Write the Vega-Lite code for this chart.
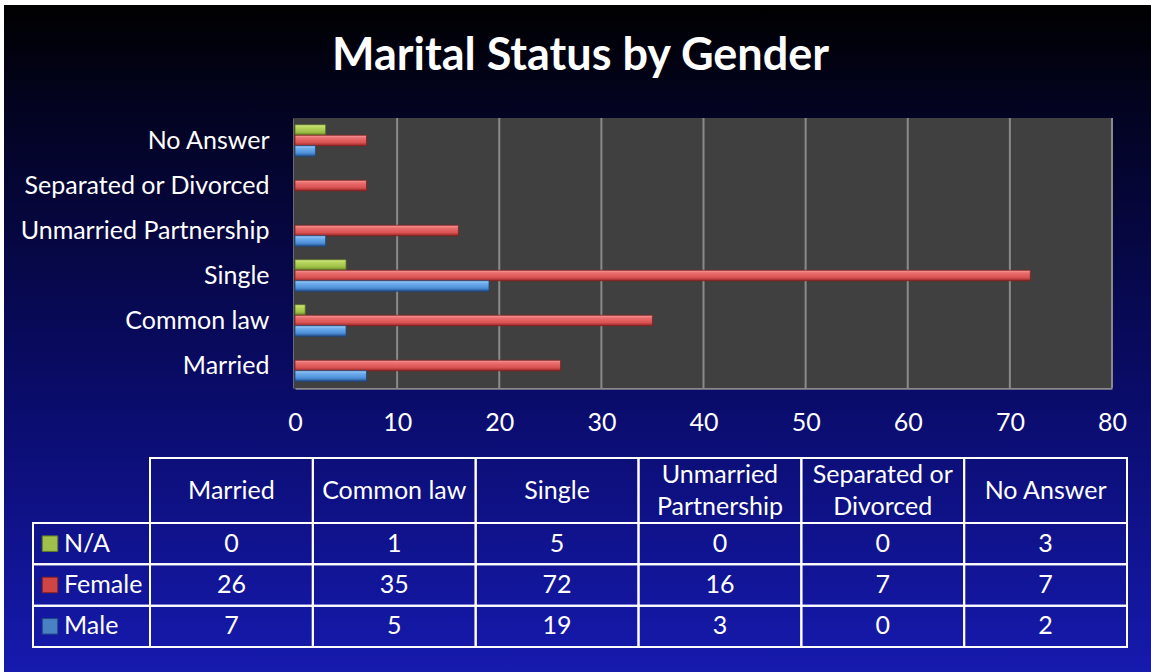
{
  "$schema": "https://vega.github.io/schema/vega-lite/v6.json",
  "width": 1151,
  "height": 672,
  "autosize": {"type": "fit", "contains": "padding"},
  "padding": {"left": 4, "top": 5, "right": 0, "bottom": 0},
  "background": "white",
  "config": {
    "view": {
      "stroke": null,
      "fill": {"gradient": "linear", "x1": 0, "y1": 0, "x2": 0, "y2": 1,
        "stops": [
          {"offset": 0, "color": "#000000"},
          {"offset": 0.15, "color": "#030320"},
          {"offset": 0.6, "color": "#0a0c6c"},
          {"offset": 1, "color": "#161aae"}
        ]}
    },
    "font": "Lato"
  },
  "title": {"text": "Marital Status by Gender", "color": "white", "font": "Lato", "fontSize": 45, "fontWeight": "bold", "anchor": "middle", "offset": -110, "baseline": "alphabetic", "frame": "group", "dx": 3},
  "datasets": {
    "status": [
      {"category": "Married", "gender": "N/A", "count": 0},
      {"category": "Married", "gender": "Female", "count": 26},
      {"category": "Married", "gender": "Male", "count": 7},
      {"category": "Common law", "gender": "N/A", "count": 1},
      {"category": "Common law", "gender": "Female", "count": 35},
      {"category": "Common law", "gender": "Male", "count": 5},
      {"category": "Single", "gender": "N/A", "count": 5},
      {"category": "Single", "gender": "Female", "count": 72},
      {"category": "Single", "gender": "Male", "count": 19},
      {"category": "Unmarried Partnership", "gender": "N/A", "count": 0},
      {"category": "Unmarried Partnership", "gender": "Female", "count": 16},
      {"category": "Unmarried Partnership", "gender": "Male", "count": 3},
      {"category": "Separated or Divorced", "gender": "N/A", "count": 0},
      {"category": "Separated or Divorced", "gender": "Female", "count": 7},
      {"category": "Separated or Divorced", "gender": "Male", "count": 0},
      {"category": "No Answer", "gender": "N/A", "count": 3},
      {"category": "No Answer", "gender": "Female", "count": 7},
      {"category": "No Answer", "gender": "Male", "count": 2}
    ],
    "headers": [
      {"category": "Married", "label": "Married"},
      {"category": "Common law", "label": "Common law"},
      {"category": "Single", "label": "Single"},
      {"category": "Unmarried Partnership", "label": "Unmarried\nPartnership"},
      {"category": "Separated or Divorced", "label": "Separated or\nDivorced"},
      {"category": "No Answer", "label": "No Answer"}
    ],
    "genders": [
      {"gender": "N/A"},
      {"gender": "Female"},
      {"gender": "Male"}
    ],
    "ticks": [
      {"t": 10}, {"t": 20}, {"t": 30}, {"t": 40}, {"t": 50}, {"t": 60}, {"t": 70}, {"t": 80}
    ],
    "one": [{}]
  },
  "resolve": {"scale": {"x": "independent", "y": "independent", "fill": "independent", "stroke": "independent"}, "axis": {"x": "independent", "y": "independent"}},
  "layer": [
    {
      "data": {"name": "one"},
      "mark": {"type": "rect", "fill": "#404040"},
      "encoding": {
        "x": {"datum": 0, "type": "quantitative", "scale": {"domain": [0, 80], "range": [290, 1108], "nice": false}, "axis": null},
        "x2": {"datum": 80},
        "y": {"datum": 0, "type": "quantitative", "scale": {"domain": [0, 1], "range": [383, 113], "nice": false}, "axis": null},
        "y2": {"datum": 1}
      }
    },
    {
      "data": {"name": "ticks"},
      "mark": {"type": "rule", "stroke": "#8a8a8a", "strokeWidth": 2},
      "encoding": {
        "x": {"field": "t", "type": "quantitative", "scale": {"domain": [0, 80], "range": [291, 1108], "nice": false}, "axis": null},
        "y": {"datum": 0, "type": "quantitative", "scale": {"domain": [0, 1], "range": [383, 113], "nice": false}, "axis": null},
        "y2": {"datum": 1}
      }
    },
    {
      "data": {"name": "status"},
      "transform": [{"filter": "datum.gender === 'N/A' && datum.count > 0"}],
      "mark": {"type": "bar", "stroke": "#55701e", "strokeWidth": 0.8,
        "fill": {"gradient": "linear", "x1": 0, "y1": 0, "x2": 0, "y2": 1,
          "stops": [{"offset": 0, "color": "#dcef8e"}, {"offset": 0.25, "color": "#b8d65e"}, {"offset": 0.7, "color": "#9dbf46"}, {"offset": 1, "color": "#5f7c22"}]}},
      "encoding": {
        "y": {"field": "category", "type": "nominal",
          "scale": {"domain": ["No Answer", "Separated or Divorced", "Unmarried Partnership", "Single", "Common law", "Married"], "range": [113, 383], "paddingInner": 0.3, "paddingOuter": 0.15},
          "axis": {"orient": "left", "offset": -290, "title": null, "domain": true, "domainColor": "#8a8a8a", "domainWidth": 2.5, "ticks": false, "grid": false, "labelPadding": 25, "labelLimit": 400, "labelFont": "Lato", "labelFontSize": 25, "labelColor": "white"}},
        "yOffset": {"field": "gender", "type": "nominal", "scale": {"domain": ["N/A", "Female", "Male"], "paddingInner": 0, "paddingOuter": 0}},
        "x": {"field": "count", "type": "quantitative",
          "scale": {"domain": [0, 80], "range": [291, 1108], "nice": false},
          "axis": {"orient": "bottom", "offset": -284, "title": null, "values": [0, 10, 20, 30, 40, 50, 60, 70, 80], "domain": true, "domainColor": "#8a8a8a", "domainWidth": 2.5, "ticks": false, "grid": false, "labelPadding": 34, "labelBaseline": "middle", "labelFont": "Lato", "labelFontSize": 25, "labelColor": "white", "labelFlush": false}}
      }
    },
    {
      "data": {"name": "status"},
      "transform": [{"filter": "datum.gender === 'Female' && datum.count > 0"}],
      "mark": {"type": "bar", "stroke": "#8a2020", "strokeWidth": 0.8,
        "fill": {"gradient": "linear", "x1": 0, "y1": 0, "x2": 0, "y2": 1,
          "stops": [{"offset": 0, "color": "#f7a0a0"}, {"offset": 0.25, "color": "#ea6e6e"}, {"offset": 0.7, "color": "#da5252"}, {"offset": 1, "color": "#952626"}]}},
      "encoding": {
        "y": {"field": "category", "type": "nominal",
          "scale": {"domain": ["No Answer", "Separated or Divorced", "Unmarried Partnership", "Single", "Common law", "Married"], "range": [113, 383], "paddingInner": 0.3, "paddingOuter": 0.15}, "axis": null},
        "yOffset": {"field": "gender", "type": "nominal", "scale": {"domain": ["N/A", "Female", "Male"], "paddingInner": 0, "paddingOuter": 0}},
        "x": {"field": "count", "type": "quantitative", "scale": {"domain": [0, 80], "range": [291, 1108], "nice": false}, "axis": null}
      }
    },
    {
      "data": {"name": "status"},
      "transform": [{"filter": "datum.gender === 'Male' && datum.count > 0"}],
      "mark": {"type": "bar", "stroke": "#1d4880", "strokeWidth": 0.8,
        "fill": {"gradient": "linear", "x1": 0, "y1": 0, "x2": 0, "y2": 1,
          "stops": [{"offset": 0, "color": "#a8d4fb"}, {"offset": 0.25, "color": "#6eaeee"}, {"offset": 0.7, "color": "#4e8fd8"}, {"offset": 1, "color": "#224f8c"}]}},
      "encoding": {
        "y": {"field": "category", "type": "nominal",
          "scale": {"domain": ["No Answer", "Separated or Divorced", "Unmarried Partnership", "Single", "Common law", "Married"], "range": [113, 383], "paddingInner": 0.3, "paddingOuter": 0.15}, "axis": null},
        "yOffset": {"field": "gender", "type": "nominal", "scale": {"domain": ["N/A", "Female", "Male"], "paddingInner": 0, "paddingOuter": 0}},
        "x": {"field": "count", "type": "quantitative", "scale": {"domain": [0, 80], "range": [291, 1108], "nice": false}, "axis": null}
      }
    },
    {
      "data": {"name": "headers"},
      "mark": {"type": "rect", "fillOpacity": 0, "stroke": "white", "strokeWidth": 2},
      "encoding": {
        "x": {"field": "category", "type": "nominal", "scale": {"type": "band", "domain": ["Married", "Common law", "Single", "Unmarried Partnership", "Separated or Divorced", "No Answer"], "range": [146, 1123], "paddingInner": 0, "paddingOuter": 0}, "axis": null},
        "y": {"datum": "h", "type": "nominal", "scale": {"type": "band", "domain": ["h"], "range": [453, 518], "paddingInner": 0, "paddingOuter": 0}, "axis": null}
      }
    },
    {
      "data": {"name": "headers"},
      "transform": [{"filter": "indexof(datum.label, '\\n') < 0"}],
      "mark": {"type": "text", "color": "white", "font": "Lato", "fontSize": 25, "baseline": "middle", "align": "center"},
      "encoding": {
        "x": {"field": "category", "type": "nominal", "scale": {"type": "band", "domain": ["Married", "Common law", "Single", "Unmarried Partnership", "Separated or Divorced", "No Answer"], "range": [146, 1123], "paddingInner": 0, "paddingOuter": 0}, "axis": null},
        "y": {"datum": "h", "type": "nominal", "scale": {"type": "band", "domain": ["h"], "range": [453, 518], "paddingInner": 0, "paddingOuter": 0}, "axis": null},
        "text": {"field": "label"}
      }
    },
    {
      "data": {"name": "headers"},
      "transform": [{"filter": "indexof(datum.label, '\\n') >= 0"}],
      "mark": {"type": "text", "color": "white", "font": "Lato", "fontSize": 25, "lineBreak": "\n", "lineHeight": 32, "baseline": "middle", "align": "center", "dy": -16},
      "encoding": {
        "x": {"field": "category", "type": "nominal", "scale": {"type": "band", "domain": ["Married", "Common law", "Single", "Unmarried Partnership", "Separated or Divorced", "No Answer"], "range": [146, 1123], "paddingInner": 0, "paddingOuter": 0}, "axis": null},
        "y": {"datum": "h", "type": "nominal", "scale": {"type": "band", "domain": ["h"], "range": [453, 518], "paddingInner": 0, "paddingOuter": 0}, "axis": null},
        "text": {"field": "label"}
      }
    },
    {
      "data": {"name": "status"},
      "mark": {"type": "rect", "fillOpacity": 0, "stroke": "white", "strokeWidth": 2},
      "encoding": {
        "x": {"field": "category", "type": "nominal", "scale": {"type": "band", "domain": ["Married", "Common law", "Single", "Unmarried Partnership", "Separated or Divorced", "No Answer"], "range": [146, 1123], "paddingInner": 0, "paddingOuter": 0}, "axis": null},
        "y": {"field": "gender", "type": "nominal", "scale": {"type": "band", "domain": ["N/A", "Female", "Male"], "range": [518, 642], "paddingInner": 0, "paddingOuter": 0}, "axis": null}
      }
    },
    {
      "data": {"name": "status"},
      "mark": {"type": "text", "color": "white", "font": "Lato", "fontSize": 25, "baseline": "middle", "align": "center"},
      "encoding": {
        "x": {"field": "category", "type": "nominal", "scale": {"type": "band", "domain": ["Married", "Common law", "Single", "Unmarried Partnership", "Separated or Divorced", "No Answer"], "range": [146, 1123], "paddingInner": 0, "paddingOuter": 0}, "axis": null},
        "y": {"field": "gender", "type": "nominal", "scale": {"type": "band", "domain": ["N/A", "Female", "Male"], "range": [518, 642], "paddingInner": 0, "paddingOuter": 0}, "axis": null},
        "text": {"field": "count", "type": "quantitative"}
      }
    },
    {
      "data": {"name": "genders"},
      "mark": {"type": "rect", "fillOpacity": 0, "stroke": "white", "strokeWidth": 2},
      "encoding": {
        "x": {"datum": "legend", "type": "nominal", "scale": {"type": "band", "domain": ["legend"], "range": [29, 146], "paddingInner": 0, "paddingOuter": 0}, "axis": null},
        "y": {"field": "gender", "type": "nominal", "scale": {"type": "band", "domain": ["N/A", "Female", "Male"], "range": [518, 642], "paddingInner": 0, "paddingOuter": 0}, "axis": null}
      }
    },
    {
      "data": {"name": "genders"},
      "mark": {"type": "point", "shape": "square", "size": 240, "filled": true, "strokeWidth": 1, "opacity": 1},
      "encoding": {
        "x": {"datum": "icon", "type": "nominal", "scale": {"type": "band", "domain": ["icon"], "range": [38, 54], "paddingInner": 0, "paddingOuter": 0}, "axis": null},
        "y": {"field": "gender", "type": "nominal", "scale": {"type": "band", "domain": ["N/A", "Female", "Male"], "range": [518, 642], "paddingInner": 0, "paddingOuter": 0}, "axis": null},
        "fill": {"field": "gender", "type": "nominal", "scale": {"domain": ["N/A", "Female", "Male"], "range": ["#9fc04a", "#cf4545", "#4a80c4"]}, "legend": null},
        "stroke": {"field": "gender", "type": "nominal", "scale": {"domain": ["N/A", "Female", "Male"], "range": ["#5f7c22", "#8a2020", "#1d4880"]}, "legend": null}
      }
    },
    {
      "data": {"name": "genders"},
      "mark": {"type": "text", "color": "white", "font": "Lato", "fontSize": 25, "baseline": "middle", "align": "left", "dx": 31},
      "encoding": {
        "x": {"datum": "legend", "type": "nominal", "bandPosition": 0, "scale": {"type": "band", "domain": ["legend"], "range": [29, 146], "paddingInner": 0, "paddingOuter": 0}, "axis": null},
        "y": {"field": "gender", "type": "nominal", "scale": {"type": "band", "domain": ["N/A", "Female", "Male"], "range": [518, 642], "paddingInner": 0, "paddingOuter": 0}, "axis": null},
        "text": {"field": "gender"}
      }
    }
  ]
}
